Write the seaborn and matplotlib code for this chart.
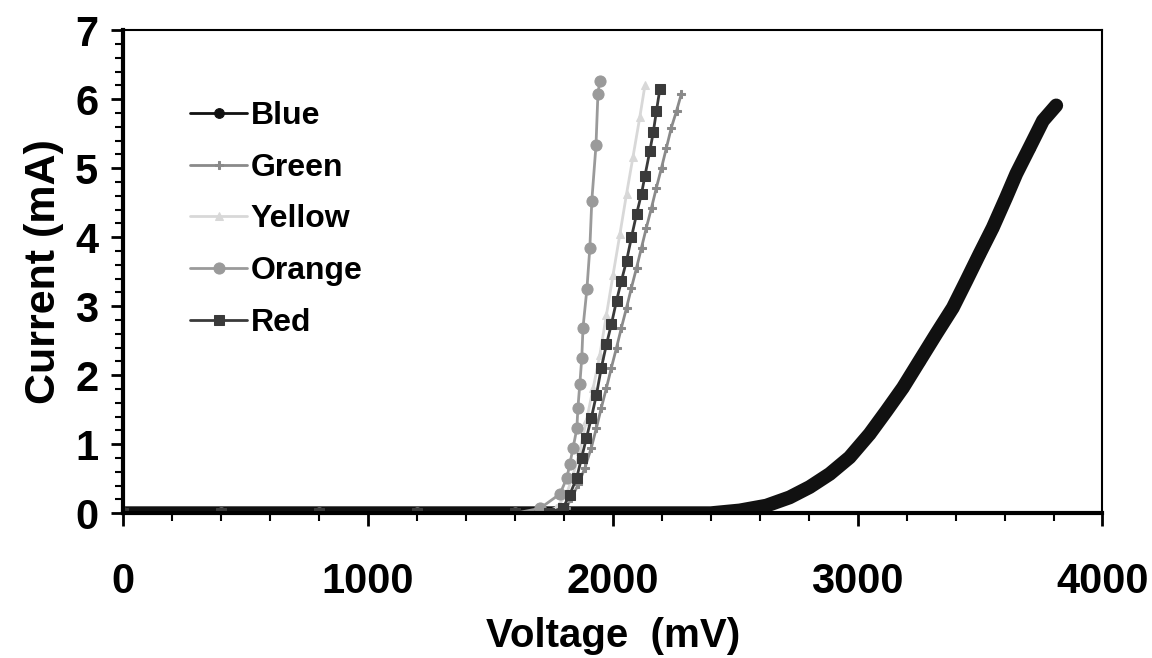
import numpy as np
import pandas as pd
import matplotlib
matplotlib.use("Agg")
import matplotlib.pyplot as plt
from matplotlib.ticker import MultipleLocator
import seaborn as sns

# values (voltage in mV, current in mA)
blue_v = [0, 400, 800, 1200, 1600, 2000, 2400, 2518, 2627, 2722, 2804, 2886, 2967, 3049, 3117,
          3185, 3253, 3321, 3389, 3444, 3498, 3552, 3607, 3648, 3702, 3757, 3811]
blue_i = [0, 0, 0, 0, 0, 0, 0, 0.04, 0.11, 0.23, 0.38, 0.57, 0.81, 1.15, 1.48,
          1.82, 2.21, 2.60, 2.98, 3.37, 3.76, 4.14, 4.58, 4.92, 5.30, 5.69, 5.91]

green_v = [0, 400, 800, 1200, 1600, 1750, 1810, 1831, 1859, 1886, 1912, 1933, 1953, 1974, 1994,
           2015, 2035, 2056, 2076, 2097, 2117, 2137, 2158, 2178, 2199, 2219, 2239, 2260, 2280]
green_i = [0, 0, 0, 0, 0, 0.01, 0.08, 0.22, 0.42, 0.66, 0.95, 1.24, 1.53, 1.82, 2.11,
           2.40, 2.69, 2.98, 3.27, 3.56, 3.85, 4.14, 4.43, 4.72, 5.01, 5.30, 5.59, 5.83, 6.08]

yellow_v = [0, 400, 800, 1200, 1600, 1720, 1769, 1810, 1838, 1865, 1892, 1920, 1947, 1974,
            2001, 2029, 2056, 2082, 2110, 2131]
yellow_i = [0, 0, 0, 0, 0, 0.01, 0.08, 0.27, 0.56, 0.90, 1.34, 1.82, 2.30, 2.88,
            3.46, 4.05, 4.63, 5.16, 5.74, 6.20]

orange_v = [0, 400, 800, 1200, 1600, 1702, 1784, 1812, 1824, 1837, 1853, 1857, 1865, 1873,
            1878, 1894, 1906, 1914, 1931, 1939, 1947]
orange_i = [0, 0, 0, 0, 0, 0.07, 0.28, 0.51, 0.71, 0.94, 1.23, 1.52, 1.87, 2.25,
            2.69, 3.25, 3.85, 4.53, 5.33, 6.08, 6.27]

red_v = [0, 400, 800, 1200, 1600, 1740, 1797, 1824, 1852, 1872, 1892, 1912, 1933, 1953, 1974,
         1994, 2015, 2035, 2056, 2076, 2097, 2117, 2131, 2151, 2165, 2178, 2192]
red_i = [0, 0, 0, 0, 0, 0.01, 0.08, 0.27, 0.51, 0.80, 1.09, 1.38, 1.72, 2.11, 2.45,
         2.74, 3.08, 3.37, 3.66, 4.00, 4.34, 4.63, 4.89, 5.25, 5.52, 5.83, 6.15]

names = ["Blue", "Green", "Yellow", "Orange", "Red"]
volts = [blue_v, green_v, yellow_v, orange_v, red_v]
currs = [blue_i, green_i, yellow_i, orange_i, red_i]

df = pd.concat([pd.DataFrame({"Voltage": v, "Current": c, "LED": n})
                for n, v, c in zip(names, volts, currs)], ignore_index=True)

palette = {"Blue": "#111111", "Green": "#8a8a8a", "Yellow": "#d8d8d8",
           "Orange": "#9a9a9a", "Red": "#3a3a3a"}
markers = {"Blue": "o", "Green": "P", "Yellow": "^", "Orange": "o", "Red": "s"}
sizes = {"Blue": 7, "Green": 6, "Yellow": 6, "Orange": 8, "Red": 7}

sns.set_style("ticks")
plt.rcParams["font.family"] = ["Liberation Sans", "DejaVu Sans"]
plt.rcParams["font.weight"] = "bold"
plt.rcParams["text.color"] = "black"
plt.rcParams["axes.labelcolor"] = "black"
plt.rcParams["xtick.color"] = "black"
plt.rcParams["ytick.color"] = "black"

fig = plt.figure(figsize=(11.52, 6.58), dpi=100)
ax = fig.add_axes([0.107, 0.220, 0.850, 0.734])

# thick underlay for the densely sampled blue trace
sns.lineplot(data=df[df["LED"] == "Blue"], x="Voltage", y="Current", color="#111111",
             linewidth=10, sort=False, estimator=None, legend=False, ax=ax)

for n in names:
    sub = df[df["LED"] == n]
    sns.lineplot(data=sub, x="Voltage", y="Current", color=palette[n], marker=markers[n],
                 markersize=sizes[n], markeredgecolor=palette[n], linewidth=2,
                 sort=False, estimator=None, label=n, ax=ax)

ax.set_xlim(0, 4000)
ax.set_ylim(0, 7)
ax.xaxis.set_major_locator(MultipleLocator(1000))
ax.xaxis.set_minor_locator(MultipleLocator(200))
ax.yaxis.set_major_locator(MultipleLocator(1))
ax.yaxis.set_minor_locator(MultipleLocator(0.2))
ax.tick_params(axis="both", which="major", labelsize=30, length=9, width=2,
               color="black", labelcolor="black")
ax.tick_params(axis="both", which="minor", length=6, width=1.5, color="black")
ax.tick_params(axis="x", which="major", pad=26)
ax.tick_params(axis="y", which="major", pad=9)
for lab in ax.get_xticklabels() + ax.get_yticklabels():
    lab.set_fontweight("bold")

for side in ["left", "bottom"]:
    ax.spines[side].set_linewidth(3)
    ax.spines[side].set_color("black")
for side in ["top", "right"]:
    ax.spines[side].set_visible(True)
    ax.spines[side].set_linewidth(1.5)
    ax.spines[side].set_color("black")

ax.set_xlabel("Voltage  (mV)", fontsize=29, fontweight="bold", labelpad=11)
ax.set_ylabel("Current (mA)", fontsize=31, fontweight="bold", labelpad=8)

leg = ax.legend(loc="upper left", bbox_to_anchor=(0.055, 0.88), frameon=False,
                handlelength=1.8, handletextpad=0.1, labelspacing=0.68, borderaxespad=0,
                prop={"weight": "bold", "size": 23})

fig.savefig("out.png", dpi=100, facecolor="white")
